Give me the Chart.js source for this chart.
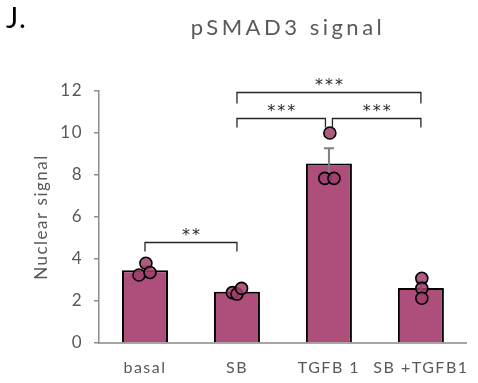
<!DOCTYPE html>
<html lang="en">
<head>
  <meta charset="UTF-8">
  <title>pSMAD3 signal</title>
  <script src="https://cdn.jsdelivr.net/npm/chart.js"></script>
  <style>
    body { margin: 0; background: #fff; }
    #wrap { width: 478px; height: 383px; position: relative; }
  </style>
</head>
<body>
<div id="wrap"><canvas id="chart"></canvas></div>
<script>
  // data
  const categories = ['basal', 'SB', 'TGFB 1', 'SB +TGFB1'];
  const means = [3.47, 2.44, 8.55, 2.62];
  const sem = [0.17, 0.08, 0.72, 0.27];
  const replicates = [
    [3.80, 3.24, 3.36],
    [2.40, 2.33, 2.60],
    [10.0, 7.84, 7.84],
    [3.08, 2.60, 2.13]
  ];
  // horizontal spread of the dots, in fractions of a category
  const jitter = [
    [0.01, -0.065, 0.055],
    [-0.05, 0.0, 0.05],
    [0.01, -0.045, 0.055],
    [0.01, 0.01, 0.01]
  ];
  const yMax = 12;
  const yStep = 2;
  // significance brackets: from / to category index, height in y units, label
  const brackets = [
    { from: 0, to: 1, level: 4.82, label: '**' },
    { from: 1, to: 3, level: 11.97, label: '***' },
    { from: 1, to: 2, level: 10.73, label: '***' },
    { from: 2, to: 3, level: 10.73, label: '***' }
  ];

  const FONT = "'Lato', 'DejaVu Sans', sans-serif";
  const GREY = '#595959';
  const BAR = '#ad4f7a';

  const dots = [];
  replicates.forEach((vals, i) => {
    vals.forEach((v, k) => dots.push({ x: i + jitter[i][k], y: v }));
  });

  const extras = {
    id: 'extras',
    beforeDraw(chart) {
      // the original font is a wide one, so open the letters up a little
      chart.ctx.letterSpacing = '1.5px';
    },
    afterDatasetDraw(chart, args) {
      if (args.index !== 0) return;
      // error bars, between the bars and the dots
      const ctx = chart.ctx;
      const x = chart.scales.x, y = chart.scales.y;
      ctx.save();
      ctx.strokeStyle = '#7f7f7f';
      ctx.lineWidth = 2;
      means.forEach((m, i) => {
        const cx = x.getPixelForValue(i);
        const top = y.getPixelForValue(m + sem[i]);
        const bot = y.getPixelForValue(m - sem[i]);
        ctx.beginPath();
        ctx.moveTo(cx, top); ctx.lineTo(cx, bot);
        ctx.moveTo(cx - 5, top); ctx.lineTo(cx + 5, top);
        ctx.moveTo(cx - 5, bot); ctx.lineTo(cx + 5, bot);
        ctx.stroke();
      });
      ctx.restore();
    },
    afterDraw(chart) {
      const ctx = chart.ctx;
      const x = chart.scales.x, y = chart.scales.y;
      ctx.save();
      // brackets
      ctx.strokeStyle = '#262626';
      ctx.lineWidth = 1.3;
      ctx.fillStyle = '#262626';
      ctx.textAlign = 'center';
      ctx.textBaseline = 'middle';
      ctx.font = '16px "DejaVu Sans", sans-serif';
      ctx.letterSpacing = '2px';
      brackets.forEach(b => {
        let x1 = x.getPixelForValue(b.from);
        let x2 = x.getPixelForValue(b.to);
        // leave a small gap where two brackets meet on the same bar
        if (brackets.some(o => o !== b && o.level === b.level && o.to === b.from)) x1 += 3.5;
        if (brackets.some(o => o !== b && o.level === b.level && o.from === b.to)) x2 -= 3.5;
        const py = Math.round(y.getPixelForValue(b.level)) + 0.5;
        const drop = b.level > 11 ? 11 : 9;
        ctx.beginPath();
        ctx.moveTo(x1, py + drop); ctx.lineTo(x1, py); ctx.lineTo(x2, py); ctx.lineTo(x2, py + drop);
        ctx.stroke();
        ctx.fillText(b.label, (x1 + x2) / 2 + 1, py - 7);
      });
      // panel letter and title
      ctx.textBaseline = 'alphabetic';
      ctx.textAlign = 'left';
      ctx.fillStyle = '#000';
      ctx.letterSpacing = '1px';
      ctx.font = '29px ' + FONT;
      ctx.fillText('J.', 6, 28);
      ctx.textAlign = 'center';
      ctx.fillStyle = GREY;
      ctx.letterSpacing = '3.5px';
      ctx.font = '22px ' + FONT;
      ctx.fillText('pSMAD3 signal', 288, 35);
      ctx.restore();
      ctx.letterSpacing = '0px';
    }
  };

  new Chart(document.getElementById('chart'), {
    data: {
      labels: categories,
      datasets: [
        {
          type: 'bar',
          data: means,
          backgroundColor: BAR,
          borderColor: '#000',
          borderWidth: 2,
          borderSkipped: 'bottom',
          barPercentage: 0.5,
          categoryPercentage: 1.0,
          grouped: false,
          order: 2,
          xAxisID: 'x'
        },
        {
          type: 'scatter',
          data: dots,
          xAxisID: 'xj',
          order: 1,
          pointRadius: 6,
          pointBackgroundColor: 'rgba(160, 62, 108, 0.85)',
          pointBorderColor: '#000',
          pointBorderWidth: 1.6
        }
      ]
    },
    options: {
      responsive: true,
      maintainAspectRatio: false,
      animation: false,
      layout: { padding: { top: 91, right: 10, left: 0, bottom: 0 } },
      plugins: { legend: { display: false }, tooltip: { enabled: false } },
      scales: {
        x: {
          type: 'category',
          offset: true,
          grid: { display: false, drawTicks: false },
          border: { color: '#a6a6a6', width: 2 },
          ticks: { color: GREY, font: { family: FONT, size: 16 }, padding: 15, maxRotation: 0 },
          afterFit(s) { s.height = 40; }
        },
        xj: {
          type: 'linear',
          display: false,
          min: -0.5,
          max: categories.length - 0.5
        },
        y: {
          min: 0,
          max: yMax,
          ticks: { stepSize: yStep, color: GREY, font: { family: FONT, size: 17 }, padding: 11 },
          grid: { drawOnChartArea: false, drawTicks: true, tickLength: 5, color: '#8c8c8c', lineWidth: 1.5 },
          border: { color: '#8c8c8c', width: 1.5 },
          title: { display: true, text: 'Nuclear signal', color: GREY, font: { family: FONT, size: 17 }, padding: { top: 31, bottom: 0 } },
          afterFit(s) { s.width = 99; }
        }
      }
    },
    plugins: [extras]
  });
</script>
</body>
</html>
